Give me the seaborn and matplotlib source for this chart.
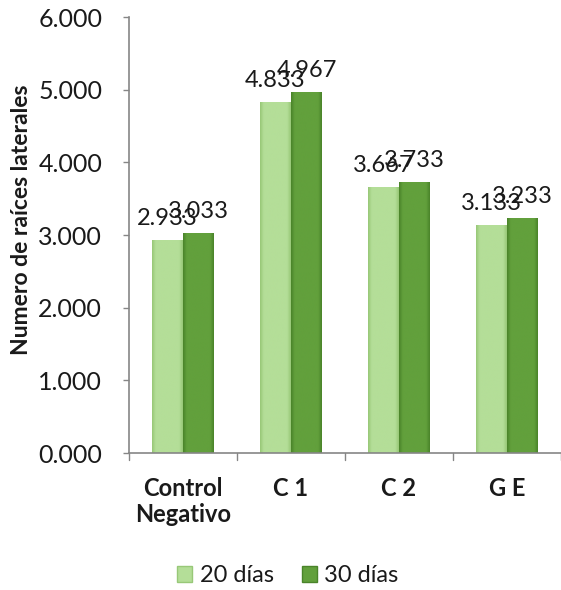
import numpy as np
import pandas as pd
import matplotlib
matplotlib.use("Agg")
import matplotlib.pyplot as plt
import seaborn as sns
from matplotlib.patches import Patch

categories = ["Control\nNegativo", "C 1", "C 2", "G E"]
series_names = ["20 días", "30 días"]
values_20 = [2.933, 4.833, 3.667, 3.133]
values_30 = [3.033, 4.967, 3.733, 3.233]
y_ticks = [0, 1, 2, 3, 4, 5, 6]

colors = {"20 días": "#b4de98", "30 días": "#62a03c"}
edge_dark = {"20 días": "#98c878", "30 días": "#4a842a"}

df = pd.DataFrame({
    "Tratamiento": categories * 2,
    "Serie": [series_names[0]] * 4 + [series_names[1]] * 4,
    "Valor": values_20 + values_30,
})

sns.set_style("white")
plt.rcParams["font.family"] = ["Lato", "DejaVu Sans"]

fig = plt.figure(figsize=(5.61, 5.90), dpi=100)
ax = fig.add_axes([0.23, 0.232, 0.77, 0.739])

sns.barplot(data=df, x="Tratamiento", y="Valor", hue="Serie",
            order=categories, hue_order=series_names,
            palette=colors, width=0.574, saturation=1, ax=ax,
            errorbar=None, legend=False, linewidth=0)

# Beveled look: horizontal shading clipped to each bar
for container, name in zip(ax.containers, series_names):
    base = np.array(matplotlib.colors.to_rgb(colors[name]))
    dark = np.array(matplotlib.colors.to_rgb(edge_dark[name]))
    for bar in container:
        x0, y0 = bar.get_x(), bar.get_y()
        w, h = bar.get_width(), bar.get_height()
        t = np.linspace(0, 1, 64)
        prof = np.clip(np.minimum(t, 1 - t) / 0.12, 0, 1)
        img = dark[None, :] * (1 - prof[:, None]) + base[None, :] * prof[:, None]
        img = img[None, :, :]
        im = ax.imshow(img, extent=[x0, x0 + w, y0, y0 + h], aspect="auto",
                       zorder=bar.get_zorder() + 0.1, interpolation="bilinear")
        im.set_clip_path(bar)

for container, vals in zip(ax.containers, [values_20, values_30]):
    ax.bar_label(container, labels=[f"{v:.3f}" for v in vals], padding=8,
                 fontsize=17, color="#1a1a1a", zorder=5)

ax.set_xlim(-0.5, 3.5)
ax.set_ylim(0, 6)
ax.set_yticks(y_ticks)
ax.set_yticklabels([f"{v:.3f}" for v in y_ticks], fontsize=18, color="#1a1a1a")
ax.set_xticks(np.arange(len(categories)))
ax.set_xticklabels(categories, fontsize=17, fontweight="bold", color="#1a1a1a",
                   linespacing=1.15)
ax.tick_params(axis="x", length=0, pad=17)
ax.tick_params(axis="y", length=4.3, color="#868686", width=1, pad=15, left=True)

# category separator ticks along the base line
for xb in np.arange(-0.5, 3.6, 1.0):
    ax.plot([xb, xb], [0, -0.1], color="#868686", lw=1, clip_on=False, zorder=1)

ax.set_xlabel("")
ax.set_ylabel("Numero de raíces laterales", fontsize=16.5, fontweight="bold",
              color="#1a1a1a")
ax.yaxis.set_label_coords(-0.2245, 0.535)

for s in ["top", "right"]:
    ax.spines[s].set_visible(False)
for s in ["left", "bottom"]:
    ax.spines[s].set_color("#868686")
    ax.spines[s].set_linewidth(1.2)

handles = [Patch(facecolor=colors[n], edgecolor=edge_dark[n], label=n) for n in series_names]
fig.legend(handles=handles, loc="center", bbox_to_anchor=(0.513, 0.024), ncol=2,
           frameon=False, fontsize=17, handlelength=0.65, handleheight=0.65,
           handletextpad=0.3, columnspacing=1.2, labelcolor="#1a1a1a",
           borderpad=0, borderaxespad=0)

fig.savefig("out.png", dpi=100)
